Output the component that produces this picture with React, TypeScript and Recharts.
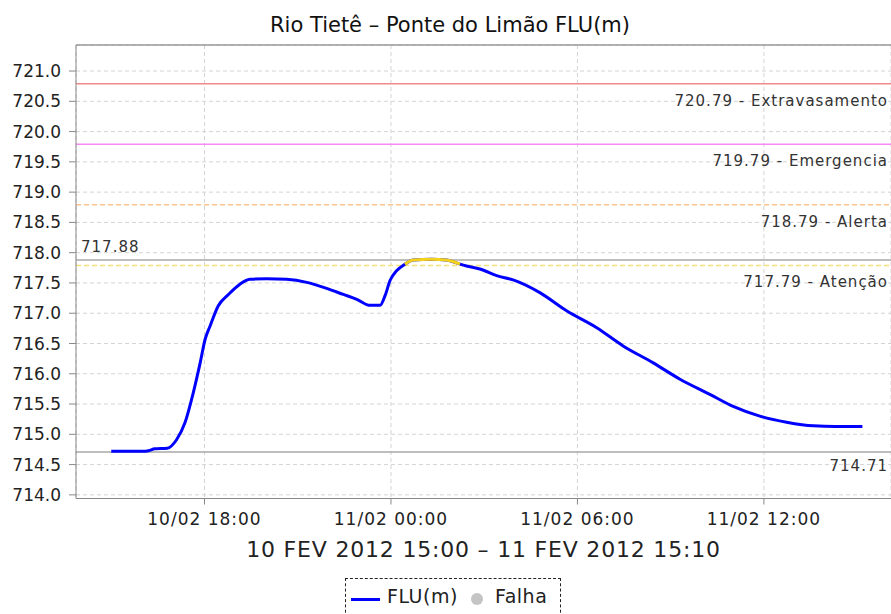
import React from 'react';
import { LineChart, Line, XAxis, YAxis, CartesianGrid, ReferenceLine, Legend } from 'recharts';

// Hours since 10/02/2012 00:00
const hours = [
  15.0, 15.5, 16.0, 16.2, 16.4, 16.8, 17.1, 17.37, 17.64, 17.86, 18.02, 18.18, 18.44, 18.77,
  19.14, 19.46, 20.0, 20.64, 21.29, 21.93, 22.47, 22.9, 23.33, 23.65, 23.81, 23.97, 24.18,
  24.45, 24.72, 25.3, 25.79, 26.22, 26.43, 26.86, 27.4, 27.93, 28.79, 29.65, 30.62, 31.47,
  32.44, 33.3, 34.26, 35.01, 35.87, 36.73, 37.59, 38.3, 39.17,
];
const level = [
  714.72, 714.72, 714.72, 714.73, 714.76, 714.77, 714.91, 715.19, 715.69, 716.18, 716.57, 716.79, 717.12, 717.31,
  717.48, 717.56, 717.57, 717.56, 717.51, 717.41, 717.31, 717.23, 717.13, 717.13, 717.29, 717.54, 717.7,
  717.81, 717.88, 717.89, 717.88, 717.81, 717.78, 717.73, 717.62, 717.55, 717.34, 717.04, 716.76, 716.46,
  716.18, 715.91, 715.66, 715.46, 715.3, 715.2, 715.14, 715.13, 715.13,
];

const xTickValues = [18, 24, 30, 36];
const xTickLabels = ['10/02 18:00', '11/02 00:00', '11/02 06:00', '11/02 12:00'];
const yTickValues = [714, 714.5, 715, 715.5, 716, 716.5, 717, 717.5, 718, 718.5, 719, 719.5, 720, 720.5, 721];

const thresholdValues = [720.79, 719.79, 718.79, 717.79];
const thresholdNames = ['Extravasamento', 'Emergencia', 'Alerta', 'Atenção'];
const thresholdColors = ['#f08a8a', '#f58af5', '#fcc48c', '#f5e27a'];
const thresholdDashed = [false, false, true, true];

const maxLevel = 717.88;
const minLevel = 714.71;
const attentionLevel = 717.79;

const xDomain = [13.865, 40.09];
const yDomain = [713.94, 721.43];

const title = 'Rio Tietê – Ponte do Limão FLU(m)';
const xAxisTitle = '10 FEV 2012 15:00 – 11 FEV 2012 15:10';

const FONT = 'DejaVu Sans';

const data = hours.map((h, i) => ({
  h,
  flu: level[i],
  peak: level[i] > attentionLevel ? level[i] : null,
}));

const rightLabel = (text: string, dy: number) => (props: any) => {
  const vb = props.viewBox || {};
  return (
    <text
      x={(vb.x || 0) + (vb.width || 0) - 3}
      y={(vb.y || 0) + dy}
      textAnchor="end"
      fontFamily={FONT}
      fontSize={15}
      letterSpacing={1}
      fill="#333"
    >
      {text}
    </text>
  );
};

const leftLabel = (text: string, dy: number) => (props: any) => {
  const vb = props.viewBox || {};
  return (
    <text x={(vb.x || 0) + 5} y={(vb.y || 0) + dy} textAnchor="start" fontFamily={FONT} fontSize={15} letterSpacing={1} fill="#333">
      {text}
    </text>
  );
};

const LegendBox = () => (
  <div
    style={{
      boxSizing: 'border-box',
      width: 216,
      height: 40,
      border: '1px dashed #222',
      fontFamily: FONT,
      fontSize: 19,
      color: '#222',
      position: 'relative',
    }}
  >
    <div style={{ position: 'absolute', left: 5, top: 19, width: 29, height: 3, background: '#0000ff' }} />
    <span style={{ position: 'absolute', left: 41, top: 6, letterSpacing: 0.5, lineHeight: '22px' }}>FLU(m)</span>
    <div style={{ position: 'absolute', left: 125, top: 14, width: 12, height: 12, borderRadius: 6, background: '#c4c4c4' }} />
    <span style={{ position: 'absolute', left: 149, top: 6, letterSpacing: 0.5, lineHeight: '22px' }}>Falha</span>
  </div>
);

export default function App() {
  return (
    <div style={{ position: 'absolute', left: 0, top: 0, width: 891, height: 614, background: '#fff', overflow: 'hidden' }}>
      <div
        style={{
          position: 'absolute',
          left: 0,
          top: 15,
          width: 900,
          textAlign: 'center',
          fontFamily: FONT,
          fontSize: 21,
          lineHeight: '21px',
          color: '#111',
          zIndex: 2,
        }}
      >
        {title}
      </div>
      <LineChart width={891} height={614} data={data} margin={{ top: 45, right: 0, bottom: 55.5, left: 0 }}>
        <CartesianGrid stroke="#d4d4d4" strokeDasharray="4 3" />
        <XAxis
          dataKey="h"
          type="number"
          domain={xDomain}
          ticks={xTickValues}
          allowDataOverflow
          tickFormatter={(v: number) => xTickLabels[xTickValues.indexOf(v)] || ''}
          height={60}
          tickSize={6}
          tickMargin={8}
          stroke="#888"
          tick={{ fontSize: 17, fill: '#222', fontFamily: FONT, letterSpacing: 1 }}
          label={{
            content: (props: any) => {
              const vb = props.viewBox || {};
              return (
                <text
                  x={(vb.x || 0) + (vb.width || 0) / 2}
                  y={(vb.y || 0) + 58}
                  textAnchor="middle"
                  fontFamily={FONT}
                  fontSize={22}
                  letterSpacing={0.8}
                  fill="#222"
                >
                  {xAxisTitle}
                </text>
              );
            },
          }}
        />
        <YAxis
          type="number"
          domain={yDomain}
          ticks={yTickValues}
          allowDataOverflow
          width={76}
          tickSize={7}
          tickMargin={8}
          stroke="#888"
          tickFormatter={(v: number) => v.toFixed(1)}
          tick={{ fontSize: 17, fill: '#222', fontFamily: FONT }}
        />
        <ReferenceLine y={yDomain[1]} stroke="#999" strokeWidth={1.5} />
        {thresholdValues.map((v, i) => (
          <ReferenceLine
            key={v}
            y={v}
            stroke={thresholdColors[i]}
            strokeWidth={1.5}
            strokeDasharray={thresholdDashed[i] ? '5 3' : undefined}
            label={rightLabel(`${v.toFixed(2)} - ${thresholdNames[i]}`, 22)}
          />
        ))}
        <ReferenceLine y={maxLevel} stroke="#a8a8a8" strokeWidth={1.5} label={leftLabel(maxLevel.toFixed(2), -8)} />
        <ReferenceLine y={minLevel} stroke="#a8a8a8" strokeWidth={1.5} label={rightLabel(minLevel.toFixed(2), 19)} />
        <Line
          type="monotone"
          dataKey="flu"
          stroke="#0000ff"
          strokeWidth={3}
          dot={false}
          isAnimationActive={false}
        />
        <Line
          type="monotone"
          dataKey="peak"
          stroke="#f2d21a"
          strokeWidth={3}
          dot={false}
          connectNulls={false}
          isAnimationActive={false}
          legendType="none"
        />
        <Legend
          layout="horizontal"
          verticalAlign="middle"
          align="center"
          wrapperStyle={{ top: 578, left: 345, width: 216, height: 40 }}
          content={() => <LegendBox />}
        />
      </LineChart>
    </div>
  );
}
